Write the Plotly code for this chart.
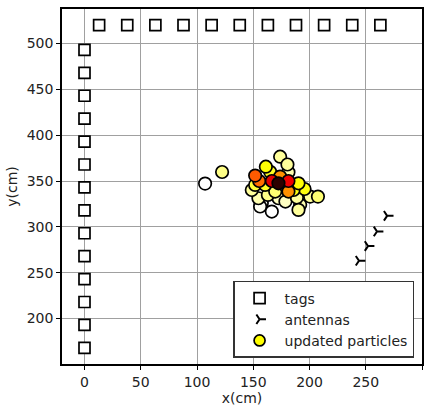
import plotly.graph_objects as go

# tags
tag_col_x = [0] * 14
tag_col_y = [168, 193, 218, 243, 268, 293, 318, 343, 368, 393, 418, 443, 468, 493]
tag_row_x = [13, 38, 63, 88, 113, 138, 163, 188, 213, 238, 263]
tag_row_y = [520] * 11
tag_x = tag_col_x + tag_row_x
tag_y = tag_col_y + tag_row_y

# antennas
ant_x = [244, 252, 260, 269]
ant_y = [263, 279, 295, 312]

# particles (x, y, weight)
part_x = [107.2, 122.3, 173.9, 180.4, 161.2, 181.3, 151.7, 155.3, 166.5, 173.9,
          172.4, 181.3, 181.3, 190.2, 195.6, 207.5, 200.6, 148.7, 160.6, 157.6,
          156.1, 166.5, 172.4, 178.6, 191.7, 188.8, 163.0, 185.8, 169.5, 151.7,
          178.6, 190.2, 165.0, 154.6]
part_y = [347.2, 359.8, 376.5, 368.0, 365.6, 359.5, 355.9, 350.0, 350.0, 354.8,
          347.5, 350.0, 338.5, 347.5, 341.3, 333.0, 333.0, 340.2, 345.7, 325.8,
          322.2, 316.7, 331.2, 327.6, 324.0, 332.0, 334.8, 340.2, 338.5, 345.7,
          345.0, 318.5, 360.0, 331.2]
part_w = [0.00, 0.12, 0.10, 0.10, 0.25, 0.08, 0.50, 0.47, 0.68, 0.42,
          0.95, 0.66, 0.42, 0.25, 0.24, 0.14, 0.10, 0.10, 0.22, 0.01,
          0.01, 0.00, 0.06, 0.06, 0.08, 0.10, 0.12, 0.24, 0.14, 0.20,
          0.26, 0.10, 0.22, 0.08]

order = sorted(range(len(part_w)), key=lambda i: part_w[i])
px = [part_x[i] for i in order]
py = [part_y[i] for i in order]
pw = [part_w[i] for i in order]

hot_r = [[0.0, "rgb(255,255,255)"], [0.254, "rgb(255,255,0)"],
         [0.635, "rgb(255,0,0)"], [1.0, "rgb(11,0,0)"]]

fig = go.Figure()
fig.add_trace(go.Scatter(
    x=tag_x, y=tag_y, mode="markers", name="tags",
    marker=dict(symbol="square", size=11, color="white",
                line=dict(color="black", width=1.7))))
fig.add_trace(go.Scatter(
    x=ant_x, y=ant_y, mode="markers", name="antennas",
    marker=dict(symbol="y-right", size=8, color="black",
                line=dict(color="black", width=2))))
fig.add_trace(go.Scatter(
    x=px, y=py, mode="markers", name="updated particles", showlegend=False,
    marker=dict(symbol="circle", size=12.5, color=pw, colorscale=hot_r,
                cmin=0, cmax=1, line=dict(color="black", width=1.7))))
fig.add_trace(go.Scatter(
    x=[None], y=[None], mode="markers", name="updated particles",
    marker=dict(symbol="circle", size=11, color="rgb(255,255,0)",
                line=dict(color="black", width=1.7))))

axis_common = dict(showgrid=True, gridcolor="#a0a0a0", gridwidth=1,
                   showline=True, linecolor="black", linewidth=1.6, mirror=True,
                   ticks="outside", ticklen=4, tickcolor="black", zeroline=False,
                   tickfont=dict(size=14, color="#222"))
fig.update_xaxes(range=[-20, 300], tickvals=[0, 50, 100, 150, 200, 250, 300],
                 title=dict(text="x(cm)", font=dict(size=14, color="#222"), standoff=1),
                 **axis_common)
fig.update_yaxes(range=[150.4, 537.6], tickvals=[200, 250, 300, 350, 400, 450, 500],
                 title=dict(text="y(cm)", font=dict(size=14, color="#222"), standoff=6),
                 **axis_common)

fig.update_layout(
    width=435, height=407,
    margin=dict(l=62, r=13, t=7, b=42),
    paper_bgcolor="white", plot_bgcolor="white",
    font=dict(family="DejaVu Sans", size=14, color="#222"),
    legend=dict(x=0.978, y=0.017, xanchor="right", yanchor="bottom",
                bgcolor="white", bordercolor="#333", borderwidth=1.5,
                itemwidth=40, font=dict(size=14)),
)
fig.write_html("out.html", config={"displayModeBar": False},
               post_script="document.body.style.margin='0px';")
